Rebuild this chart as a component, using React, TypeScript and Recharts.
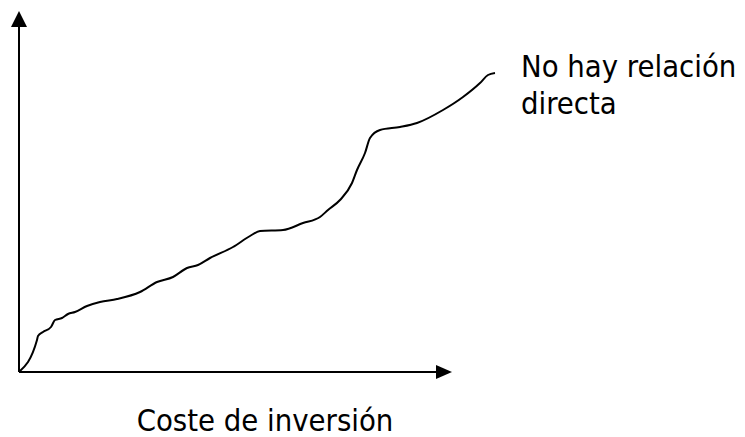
import { LineChart, Line, XAxis, YAxis, ReferenceLine, ReferenceDot } from "recharts";

// curve (arbitrary units, x = cost, y = value)
const costs = [0, 18, 19, 24, 32, 36, 43, 49, 56, 68, 81, 98, 121, 138, 154, 168, 179, 191, 214, 231, 241, 264, 284, 301, 309, 321, 333, 338, 346, 351, 361, 381, 398, 424, 444, 461, 469, 476];
const values = [0, 32, 36, 40, 45, 52, 54, 58, 60, 66, 70, 73, 80, 90, 95, 104, 107, 114, 125, 136, 141, 142, 149, 155, 162, 172, 189, 202, 219, 234, 242, 245, 249, 262, 275, 289, 297, 299];

const xMax = 433;
const yMax = 361;

const xLabel = "Coste de inversión";
const noteLines = ["No hay relación", "directa"];

const data = costs.map((c, i) => ({ cost: c, value: values[i] }));

const font = '"DejaVu Sans Condensed", "DejaVu Sans", sans-serif';

const ArrowRight = (p: any) => (
  <polygon points={`${p.cx},${p.cy} ${p.cx - 16},${p.cy - 7} ${p.cx - 16},${p.cy + 7}`} fill="#000" />
);

const ArrowUp = (p: any) => (
  <polygon points={`${p.cx},${p.cy} ${p.cx - 8},${p.cy + 16} ${p.cx + 8},${p.cy + 16}`} fill="#000" />
);

export default function App() {
  return (
    <div style={{ position: "absolute", left: 0, top: 0, width: 745, height: 437, background: "#fff" }}>
      <LineChart
        width={745}
        height={437}
        data={data}
        margin={{ top: 11, right: 246, left: 19, bottom: 65 }}
      >
        <XAxis dataKey="cost" type="number" domain={[0, 480]} hide />
        <YAxis type="number" domain={[0, yMax]} hide />
        <ReferenceLine segment={[{ x: 0, y: 0 }, { x: xMax - 8, y: 0 }]} stroke="#000" strokeWidth={2} />
        <ReferenceLine segment={[{ x: 0, y: 0 }, { x: 0, y: yMax - 8 }]} stroke="#000" strokeWidth={2} />
        <ReferenceDot x={xMax} y={0} shape={ArrowRight} />
        <ReferenceDot x={0} y={yMax} shape={ArrowUp} />
        <Line
          type="monotone"
          dataKey="value"
          stroke="#000"
          strokeWidth={2}
          dot={false}
          isAnimationActive={false}
        />
      </LineChart>
      <div
        style={{
          position: "absolute",
          left: 0,
          width: 530,
          top: 409,
          textAlign: "center",
          fontFamily: font,
          fontSize: 30.7,
          lineHeight: "24px",
          color: "#000",
          whiteSpace: "nowrap",
        }}
      >
        {xLabel}
      </div>
      <div
        style={{
          position: "absolute",
          left: 521,
          top: 48,
          fontFamily: font,
          fontSize: 30.7,
          lineHeight: "37px",
          color: "#000",
          whiteSpace: "nowrap",
        }}
      >
        {noteLines.map((l) => (
          <div key={l}>{l}</div>
        ))}
      </div>
    </div>
  );
}
